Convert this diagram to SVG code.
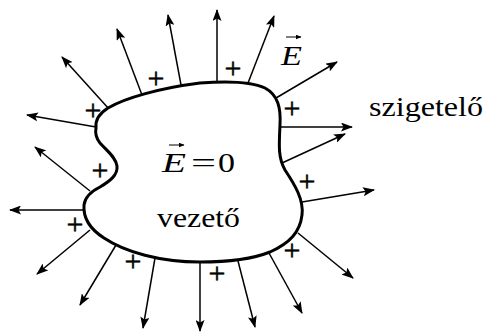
<svg xmlns="http://www.w3.org/2000/svg" width="485" height="332" viewBox="0 0 485 332">
<style>
.t{font-family:'Liberation Serif','Times New Roman',serif;fill:#000}
.p{font-family:'Liberation Serif','Times New Roman',serif;font-size:30px;text-anchor:middle;fill:#000;stroke:#000;stroke-width:0.5}
.a{stroke:#000;stroke-width:1.5;fill:none;marker-end:url(#ah)}
.body{fill:#fff;stroke:#000;stroke-width:3}
</style>
<defs>
<marker id="ah" markerWidth="12" markerHeight="9" refX="11" refY="4.5" orient="auto" markerUnits="userSpaceOnUse">
<path d="M0,0 L12,4.5 L0,9 L2.5,4.5 Z" fill="#000"/>
</marker>
<marker id="sa" markerWidth="6" markerHeight="5" refX="5.5" refY="2.5" orient="auto" markerUnits="userSpaceOnUse">
<path d="M0,0 L6,2.5 L0,5 Z" fill="#000"/>
</marker>
</defs>
<g id="connectors">
<line class="a" x1="96" y1="127" x2="27" y2="115"/>
<line class="a" x1="109" y1="109" x2="62" y2="57"/>
<line class="a" x1="142" y1="95" x2="117" y2="29"/>
<line class="a" x1="181" y1="85" x2="168" y2="15"/>
<line class="a" x1="217" y1="82" x2="217" y2="10"/>
<line class="a" x1="248" y1="83" x2="274" y2="16"/>
<line class="a" x1="276" y1="98" x2="337" y2="62"/>
<line class="a" x1="280" y1="127" x2="352" y2="127"/>
<line class="a" x1="282" y1="163" x2="345" y2="134"/>
<line class="a" x1="302" y1="202" x2="374" y2="190"/>
<line class="a" x1="298" y1="233" x2="353" y2="278"/>
<line class="a" x1="269" y1="253" x2="302" y2="313"/>
<line class="a" x1="238" y1="261" x2="255" y2="327"/>
<line class="a" x1="200" y1="262" x2="200" y2="331"/>
<line class="a" x1="155" y1="258" x2="143" y2="328"/>
<line class="a" x1="116" y1="245" x2="80" y2="305"/>
<line class="a" x1="90" y1="230" x2="37" y2="274"/>
<line class="a" x1="83" y1="210" x2="10" y2="210"/>
<line class="a" x1="90" y1="191" x2="35" y2="147"/>
</g>
<g id="vezeto">
<path class="body" d="M96,128 C95,120 100,113 108,108 C125,98 160,88 200,83 C225,81 250,81 265,88 C278,95 281,108 280,125 C279,145 278,158 285,170 C295,185 304,200 302,215 C300,232 290,243 270,252 C250,260 225,262 200,262 C160,262 125,252 104,238 C90,229 83,218 84,205 C85,196 92,191 100,187 C110,181 118,175 117,166 C116,157 106,150 100,143 C96,138 95,133 96,128 Z"/>
<text class="t" x="162" y="172" style="font-size:27px;font-style:italic" textLength="24" lengthAdjust="spacingAndGlyphs">E</text>
<line x1="169" y1="145" x2="184" y2="145" stroke="#000" stroke-width="1" marker-end="url(#sa)"/>
<text class="t" x="191" y="172" style="font-size:27px" textLength="25" lengthAdjust="spacingAndGlyphs">=</text>
<text class="t" x="218" y="172" style="font-size:27px" textLength="17" lengthAdjust="spacingAndGlyphs">0</text>
<text class="t" x="157" y="227" style="font-size:28px" textLength="83" lengthAdjust="spacingAndGlyphs">vezető</text>
</g>
<g id="charges">
<text class="p" x="93" y="120">+</text>
<text class="p" x="156" y="88">+</text>
<text class="p" x="233" y="78">+</text>
<text class="p" x="292" y="118">+</text>
<text class="p" x="307" y="191">+</text>
<text class="p" x="292" y="260">+</text>
<text class="p" x="217" y="283">+</text>
<text class="p" x="133" y="271">+</text>
<text class="p" x="75" y="234">+</text>
<text class="p" x="100" y="180">+</text>
</g>
<g id="field-label">
<text class="t" x="281" y="65" style="font-size:28px;font-style:italic" textLength="21" lengthAdjust="spacingAndGlyphs">E</text>
<line x1="286" y1="37" x2="301" y2="37" stroke="#000" stroke-width="1" marker-end="url(#sa)"/>
</g>
<g id="szigetelo">
<text class="t" x="369" y="116" style="font-size:28px" textLength="114" lengthAdjust="spacingAndGlyphs">szigetelő</text>
</g>
</svg>
